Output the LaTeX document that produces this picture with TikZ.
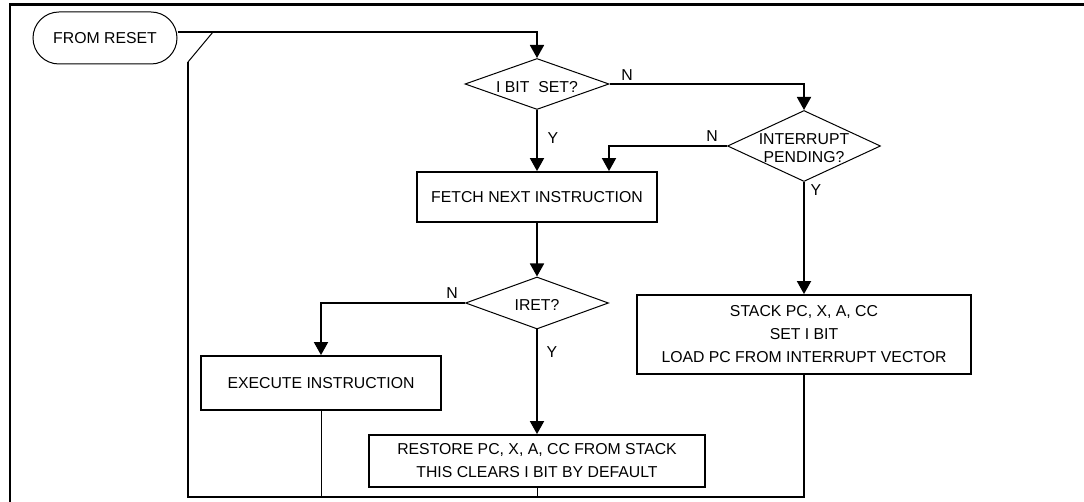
\documentclass[tikz,border=0pt]{standalone}
\usepackage{fontspec}
\setmainfont{Liberation Sans}
\usetikzlibrary{shapes.geometric,shapes.misc,arrows.meta}
\begin{document}
\begin{tikzpicture}[x=1pt,y=-1pt,
  box/.style={draw,line width=1.8pt,rectangle,inner sep=0pt,align=center,font=\fontsize{15.8}{23}\selectfont},
  dec/.style={draw,line width=1pt,diamond,inner sep=0pt},
  txt/.style={inner sep=0pt,align=center,font=\fontsize{15.8}{18}\selectfont},
  flow/.style={line width=1.8pt,-{Triangle[width=14pt,length=13pt]}},
  ret/.style={line width=1.8pt},
  thinret/.style={line width=1pt},
]
\useasboundingbox (0,0) rectangle (1084,502);
\coordinate (fbl) at (10,502);
\coordinate (ftl) at (10,5);
\coordinate (ftr) at (1084,5);
\draw[line width=2pt] (fbl) -- (ftl);
\draw[line width=3pt] ([xshift=-1pt]ftl) -- (ftr);

\node[draw,line width=1pt,rounded rectangle,minimum width=144pt,minimum height=52pt,inner sep=0pt,font=\fontsize{15.8}{18}\selectfont] (reset) at (105,38) {FROM RESET};
\node[dec,minimum width=144pt,minimum height=51pt] (ibit) at (537,84) {};
\node[txt] (ibitT) at (537,87) {I BIT~ SET?};
\node[dec,minimum width=153pt,minimum height=71pt] (intr) at (804,146) {};
\node[txt] (intrT) at (804,148) {INTERRUPT\\PENDING?};
\node[box,minimum width=240pt,minimum height=50pt] (fetch) at (537,197) {FETCH NEXT INSTRUCTION};
\node[dec,minimum width=143pt,minimum height=52pt] (iret) at (537,303) {};
\node[txt] (iretT) at (537,305) {IRET?};
\node[box,minimum width=334pt,minimum height=79pt] (stack) at (804,334.5) {STACK PC, X, A, CC\\SET I BIT\\LOAD PC FROM INTERRUPT VECTOR};
\node[box,minimum width=240pt,minimum height=54pt] (exec) at (321,383) {EXECUTE INSTRUCTION};
\node[box,minimum width=336pt,minimum height=52pt] (restore) at (537,461) {RESTORE PC, X, A, CC FROM STACK\\THIS CLEARS I BIT BY DEFAULT};

\node[txt] (n1) at (627,75) {N};
\node[txt] (y1) at (553,138) {Y};
\node[txt] (n2) at (712,136) {N};
\node[txt] (y2) at (816,190) {Y};
\node[txt] (n3) at (452,293) {N};
\node[txt] (y3) at (552,352) {Y};

\draw[flow] ([yshift=6pt]reset.east) -| (ibit.north);
\coordinate (m1) at (213,32);
\coordinate (m2) at (188,62);
\coordinate (bl) at (188,497);
\draw[thinret] (m1) -- (m2);
\draw[ret] (m2) -- (bl) -- (stack.south |- bl) -- (stack.south);
\draw[thinret] (exec.south) -- (exec.south |- bl);
\draw[thinret] (restore.south) -- (restore.south |- bl);
\draw[flow] (ibit.east) -| (intr.north);
\draw[flow] (ibit.south) -- (fetch.north);
\draw[flow] (intr.west) -| ([xshift=72pt]fetch.north);
\draw[flow] (intr.south) -- (stack.north);
\draw[flow] (fetch.south) -- (iret.north);
\draw[flow] (iret.west) -| (exec.north);
\draw[flow] (iret.south) -- (restore.north);
\end{tikzpicture}
\end{document}
